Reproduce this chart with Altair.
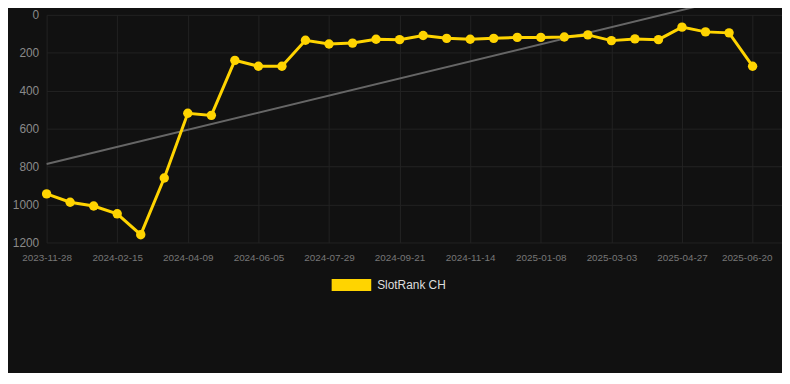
import altair as alt
import pandas as pd

tick_labels = ["2023-11-28", "2024-02-15", "2024-04-09", "2024-06-05", "2024-07-29",
               "2024-09-21", "2024-11-14", "2025-01-08", "2025-03-03", "2025-04-27",
               "2025-06-20"]
ranks = [944, 988, 1008, 1049, 1159, 860, 519, 530, 240, 271, 271,
         134, 154, 149, 129, 131, 109, 124, 129, 124, 119,
         119, 117, 106, 136, 127, 131, 65, 90, 95, 271]
series_name = "SlotRank CH"

df = pd.DataFrame({"idx": list(range(len(ranks))), "rank": ranks, "series": series_name})

label_expr = "[" + ",".join("'%s'" % t for t in tick_labels) + "][round(datum.value/3)]"

x = alt.X("idx:Q", scale=alt.Scale(domain=[0, 31.25], nice=False, zero=False),
          axis=alt.Axis(values=list(range(0, 31, 3)), labelExpr=label_expr, title=None,
                        ticks=False, domain=False, labelPadding=10, labelFontSize=10,
                        labelColor="#777777", gridColor="#222222", labelFlush=False,
                        labelOffset={"condition": {"test": "datum.value == 30", "value": -6},
                                     "value": 0}))
y = alt.Y("rank:Q", scale=alt.Scale(domain=[0, 1200], reverse=True, nice=False),
          axis=alt.Axis(values=list(range(0, 1201, 200)), title=None, ticks=False, domain=False,
                        format="d", labelPadding=8, labelFontSize=12, labelColor="#8a8a8a",
                        gridColor="#222222"))

color = alt.Color("series:N", scale=alt.Scale(domain=[series_name], range=["#FFD400"]),
                  legend=alt.Legend(title=None, orient="none", legendX=288, legendY=253,
                                    symbolType="M-1,-0.3H1V0.3H-1Z", symbolSize=1600,
                                    symbolFillColor="#FFD400", symbolStrokeWidth=0,
                                    labelFontSize=12, labelColor="#dddddd", labelOffset=6,
                                    padding=0))

base = alt.Chart(df)
trend = base.transform_regression("idx", "rank").mark_line(
    color="#666666", strokeWidth=2, clip=False).encode(x=x, y=y)
line = base.mark_line(strokeWidth=3).encode(x=x, y=y, color=color)
pts = base.mark_circle(size=90, opacity=1).encode(x=x, y=y, color=color)

chart = alt.layer(trend, line, pts).properties(
    width=743, height=230,
    autosize=alt.AutoSizeParams(type="none"),
    padding={"left": 39, "top": 5, "right": 0, "bottom": 130},
    background="#111111",
).configure(font="Liberation Sans").configure_view(stroke=None)

chart.save("out.html", embed_options={"renderer": "svg", "actions": False})
